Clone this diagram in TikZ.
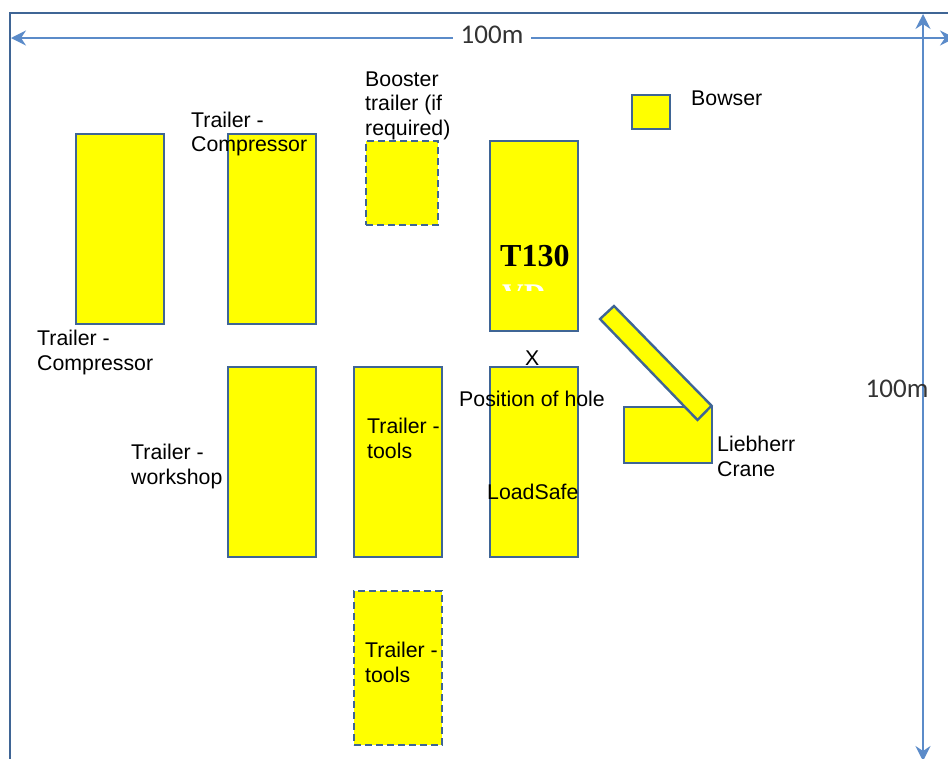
\documentclass[tikz,border=0pt]{standalone}
\usepackage{fontspec}
\setmainfont{Liberation Sans}
\newfontfamily\dimfont{Carlito}
\newfontfamily\titlefont{Liberation Serif}
\usetikzlibrary{arrows.meta}
\definecolor{edgeblue}{HTML}{3F6595}
\definecolor{dimblue}{HTML}{5B8BC9}
\definecolor{boxyellow}{HTML}{FFFF00}
\tikzset{
 x=1pt,y=-1pt,
 unitbox/.style={draw=edgeblue,line width=2.4pt,fill=boxyellow,line join=miter,inner sep=0pt,outer sep=0pt},
 optbox/.style={unitbox,dash pattern=on 7pt off 4pt},
 lbl/.style={anchor=base west,inner sep=0pt,align=left,font=\fontsize{21.3}{24.5}\selectfont,text=black},
 dimline/.style={draw=dimblue,line width=1.6pt,{Stealth[length=15pt,width=15pt,inset=5pt]}-{Stealth[length=15pt,width=15pt,inset=5pt]}},
 dimlbl/.style={fill=white,inner xsep=8pt,inner ysep=1pt,font=\dimfont\fontsize{27}{30}\selectfont,text=black!80},
}
\begin{document}
\begin{tikzpicture}
\path[use as bounding box] (0,0) rectangle (948,758);
\clip (0,0) rectangle (948,758);
% frame
\coordinate (fBL) at (10,775);
\coordinate (fTL) at (10,13);
\coordinate (fTR) at (960,13);
\draw[edgeblue,line width=2.4pt] (fBL) -- (fTL) -- (fTR);
% dimensions
\coordinate (hL) at (11,38);
\coordinate (hR) at (955,38);
\coordinate (vT) at (923,14);
\coordinate (vB) at (923,761);
\draw[dimline] (hL) -- (hR);
\draw[dimline] (vT) -- (vB);
\node[dimlbl] (dimH) at (492,35) {100m};
\node[dimlbl,inner xsep=0pt,fill=none] (dimV) at (897,389) {100m};
% boxes
\node[unitbox,minimum width=88pt,minimum height=190pt,anchor=north west] (compA) at (76,134) {};
\node[unitbox,minimum width=88pt,minimum height=190pt,anchor=north west] (compB) at (228,134) {};
\node[optbox,minimum width=72pt,minimum height=84pt,anchor=north west] (booster) at (366,141) {};
\node[unitbox,minimum width=88pt,minimum height=190pt,anchor=north west] (t130) at (490,141) {};
\node[unitbox,minimum width=38pt,minimum height=34pt,anchor=north west] (bowser) at (632,95) {};
\node[unitbox,minimum width=88pt,minimum height=190pt,anchor=north west] (workshop) at (228,367) {};
\node[unitbox,minimum width=88pt,minimum height=190pt,anchor=north west] (tools) at (354,367) {};
\node[unitbox,minimum width=88pt,minimum height=190pt,anchor=north west] (loadsafe) at (490,367) {};
\node[optbox,minimum width=88pt,minimum height=154pt,anchor=north west] (toolsopt) at (354,591) {};
\node[unitbox,minimum width=88pt,minimum height=56pt,anchor=north west] (crane) at (624,407) {};
\draw[unitbox] (614,306) -- (600,319) -- (697.5,420) -- (711.5,405.7) -- cycle;
% T130
\node[lbl,font=\titlefont\bfseries\fontsize{32}{36}\selectfont] (t130txt) at (500,266) {T130};
\begin{scope}
\clip (495,281) rectangle (550,290);
\node[lbl,font=\titlefont\bfseries\fontsize{30}{36}\selectfont,text=white] (vdtxt) at (502,304) {VD};
\end{scope}
% labels
\node[lbl] (l1) at (37,370) {Trailer -\\Compressor};
\node[lbl] (l2) at (191,151.5) {Trailer -\\Compressor};
\node[lbl] (l3) at (365,135) {Booster\\trailer (if\\required)};
\node[lbl] (l4) at (691,105) {Bowser};
\node[lbl] (l5) at (131,484) {Trailer -\\workshop};
\node[lbl] (l6) at (367,458) {Trailer -\\tools};
\node[lbl] (l7) at (365,682) {Trailer -\\tools};
\node[lbl] (l8) at (525,365) {X};
\node[lbl] (l9) at (459,406) {Position of hole};
\node[lbl] (l10) at (487,499) {LoadSafe};
\node[lbl] (l11) at (717,476) {Liebherr\\Crane};
\end{tikzpicture}
\end{document}
